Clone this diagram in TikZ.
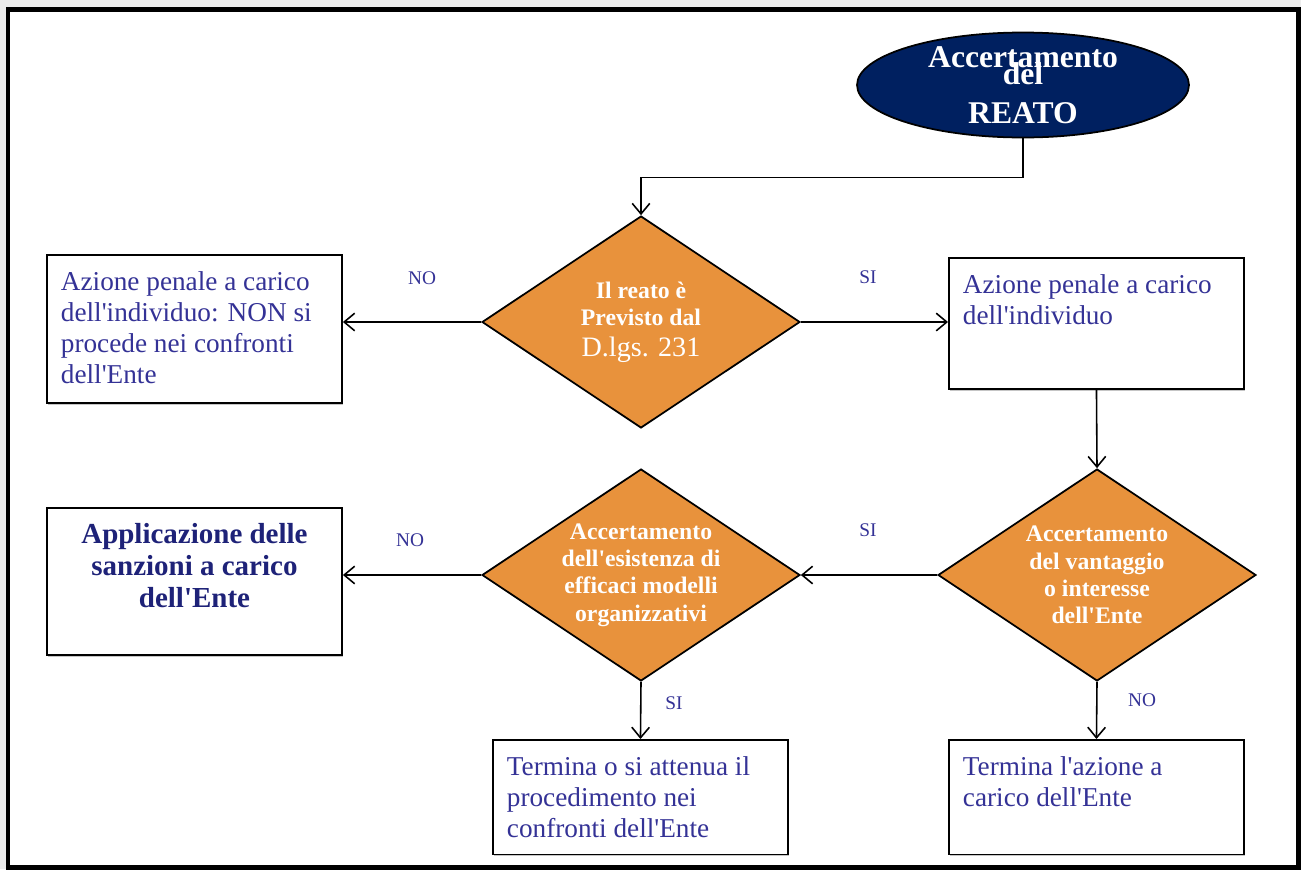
\documentclass[tikz,border=0pt]{standalone}
\usepackage{fontspec}
\setmainfont{Liberation Serif}
\usetikzlibrary{shapes.geometric,arrows.meta,shadows}
\definecolor{ink}{RGB}{52,50,150}
\definecolor{inkdark}{RGB}{30,34,120}
\definecolor{navy}{RGB}{0,32,96}
\definecolor{orng}{RGB}{232,146,60}
\newcommand{\blk}[2]{\parbox[c][#1][t]{152pt}{\raggedright\rule{0pt}{20pt}#2}}
\newcommand{\ap}{\textquotesingle}
\begin{document}
\begin{tikzpicture}[x=0.02cm, y=-0.02cm,
    >={Straight Barb[length=6pt,width=10pt]},
    flow/.style={line width=0.9pt, ->},
    blk/.style={draw, line width=1pt, fill=white, text=ink, anchor=north west,
      inner xsep=8pt, inner ysep=0pt, font=\fontsize{15.5}{17.8}\selectfont,
      drop shadow={shadow xshift=.6pt, shadow yshift=-.8pt, opacity=.45}},
    dec/.style={diamond, aspect=1.5, draw, line width=1pt, fill=orng, text=white,
      inner sep=0pt, minimum width=6.36cm, minimum height=4.24cm, align=center,
      font=\bfseries\fontsize{13.5}{15.6}\selectfont},
    lbl/.style={text=ink, font=\fontsize{11}{13}\selectfont}]
  \useasboundingbox (0,0) rectangle (1301,869);
  \fill[gray!14] (0,0) rectangle (1301,869);                          %page
  \draw[line width=2.8pt, fill=white] (8,9.5) rectangle (1298.5,867.5); %frame
  % start
  \node[ellipse, draw, line width=1pt, fill=navy, inner sep=0pt,
        minimum width=6.64cm, minimum height=2.1cm] (reato) at (1023,85) {};
  \node[text=white, align=center, font=\bfseries\fontsize{18}{22}\selectfont]
        (reatotxt) at (1023,85) {Accertamento\\[-12pt]del\\REATO};
  % decisions
  \node[dec] (dlgs) at (641,322)
        {Il reato è\\Previsto dal\\[2pt]\mdseries\fontsize{16}{19}\selectfont D.lgs. 231};
  \node[dec] (vantaggio) at (1097,575) {Accertamento\\del vantaggio\\o interesse\\dell\ap{}Ente};
  \node[dec] (modelli) at (641,575) {Accertamento\\dell\ap{}esistenza di\\efficaci modelli\\organizzativi};
  % boxes
  \node[blk] (azno) at (46,254)
        {\blk{84.5pt}{Azione penale a carico\\dell\ap{}individuo: NON si\\procede nei confronti\\dell\ap{}Ente}};
  \node[blk] (azsi) at (948,257) {\blk{74.8pt}{Azione penale a carico\\dell\ap{}individuo}};
  \node[blk] (sanzioni) at (46,507)
        {\blk{83.9pt}{\centering\bfseries\color{inkdark}\fontsize{16.5}{18.4}\selectfont
         Applicazione delle\\sanzioni a carico\\dell\ap{}Ente}};
  \node[blk] (attenua) at (492,739)
        {\blk{65.2pt}{Termina o si attenua il\\procedimento nei\\confronti dell\ap{}Ente}};
  \node[blk] (termina) at (948,739) {\blk{65.2pt}{Termina l\ap{}azione a\\carico dell\ap{}Ente}};
  % connectors
  \draw[flow] (reato.south) -- ++(0,39) -| (dlgs.north);
  \draw[flow] (dlgs.west) -- (dlgs.west -| azno.east);
  \draw[flow] (dlgs.east) -- (dlgs.east -| azsi.west);
  \draw[flow] (azsi.south) -- (vantaggio.north);
  \draw[flow] (vantaggio.west) -- (modelli.east);
  \draw[flow] (modelli.west) -- (modelli.west -| sanzioni.east);
  \draw[flow] (modelli.south) -- (attenua.north);
  \draw[flow] (vantaggio.south) -- (termina.north);
  % labels
  \node[lbl] (noA) at (422,278) {NO};
  \node[lbl] (siA) at (868,277) {SI};
  \node[lbl] (siB) at (868,530) {SI};
  \node[lbl] (noB) at (410,540) {NO};
  \node[lbl] (siC) at (674,703) {SI};
  \node[lbl] (noC) at (1142,700) {NO};
\end{tikzpicture}
\end{document}
